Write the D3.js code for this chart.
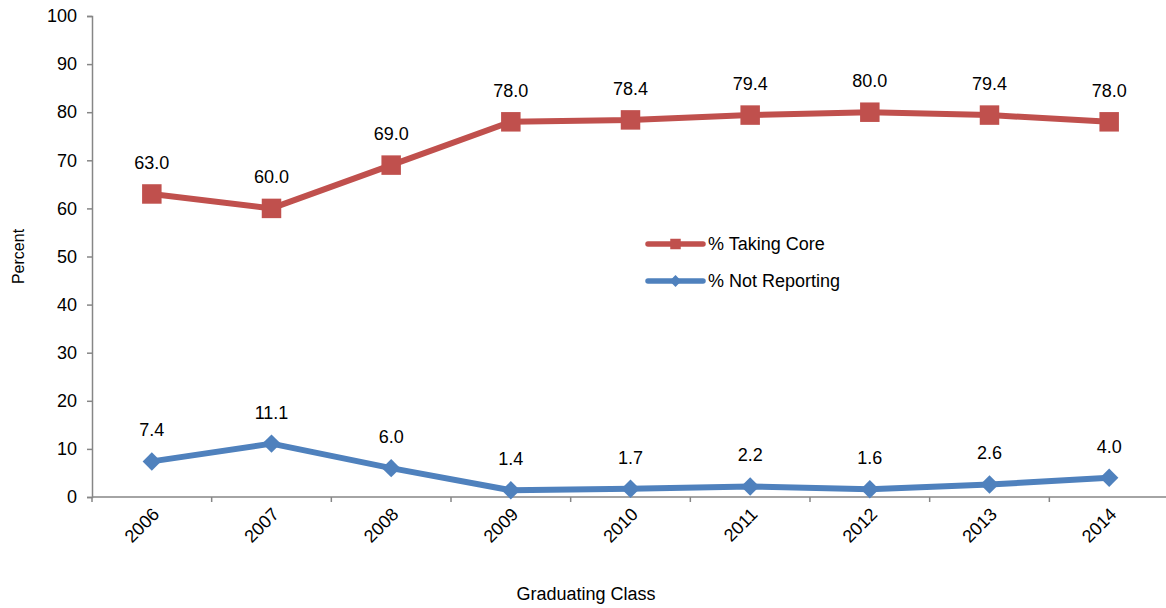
<!DOCTYPE html>
<html>
<head>
<meta charset="utf-8">
<script src="https://cdn.jsdelivr.net/npm/d3@7"></script>
<style>
  body { margin: 0; background: #fff; }
  text { font-family: "Liberation Sans", Arial, sans-serif; }
</style>
</head>
<body>
<svg id="chart"></svg>
<script>
// Core course-taking by graduating class
const years = ['2006', '2007', '2008', '2009', '2010', '2011', '2012', '2013', '2014'];
const takingCore = [63.0, 60.0, 69.0, 78.0, 78.4, 79.4, 80.0, 79.4, 78.0];
const notReporting = [7.4, 11.1, 6.0, 1.4, 1.7, 2.2, 1.6, 2.6, 4.0];
const yTicks = [0, 10, 20, 30, 40, 50, 60, 70, 80, 90, 100];

const width = 1166;
const height = 608;
const margin = { top: 16, right: -3, bottom: 111, left: 92 };

const svg = d3.select('#chart')
  .attr('width', width)
  .attr('height', height);

const xScale = d3.scaleBand()
  .domain(years)
  .range([margin.left, width - margin.right])
  .padding(0);

const yScale = d3.scaleLinear()
  .domain([0, 100])
  .range([height - margin.bottom, margin.top]);

const axisColor = '#868686';

// Y axis
const yAxis = svg.append('g')
  .attr('transform', `translate(${margin.left},0)`)
  .call(d3.axisLeft(yScale).tickValues(yTicks).tickSize(5).tickPadding(10));
yAxis.select('.domain').attr('stroke', axisColor).attr('stroke-width', 1.5);
yAxis.selectAll('.tick line').attr('stroke', axisColor).attr('stroke-width', 1.5);
yAxis.selectAll('text')
  .style('font-size', '18px')
  .style('fill', '#000');

// X axis: ticks sit on category boundaries
const xAxisG = svg.append('g')
  .attr('transform', `translate(0,${yScale(0)})`);
xAxisG.append('line')
  .attr('x1', margin.left)
  .attr('x2', width)
  .attr('stroke', axisColor)
  .attr('stroke-width', 1.5);
xAxisG.selectAll('.xtick')
  .data(years)
  .enter()
  .append('line')
  .attr('x1', d => xScale(d))
  .attr('x2', d => xScale(d))
  .attr('y1', 0)
  .attr('y2', 5)
  .attr('stroke', axisColor)
  .attr('stroke-width', 1.5);
xAxisG.selectAll('.xlabel')
  .data(years)
  .enter()
  .append('text')
  .attr('transform', d => `translate(${xScale(d) + xScale.bandwidth() / 2 + 4},${14}) rotate(-45)`)
  .attr('text-anchor', 'end')
  .attr('dy', '0.35em')
  .style('font-size', '18px')
  .style('fill', '#000')
  .text(d => d);

// Axis titles
svg.append('text')
  .attr('transform', `translate(24,${(margin.top + yScale(0)) / 2}) rotate(-90)`)
  .attr('text-anchor', 'middle')
  .style('font-size', '16px')
  .style('fill', '#000')
  .text('Percent');

svg.append('text')
  .attr('x', 586)
  .attr('y', 600)
  .attr('text-anchor', 'middle')
  .style('font-size', '18px')
  .style('fill', '#000')
  .text('Graduating Class');

const cx = (d, i) => xScale(years[i]) + xScale.bandwidth() / 2;

const series = [
  { name: '% Taking Core', values: takingCore, color: '#C0504D', rotate: 0, size: 380, legendSize: 110 },
  { name: '% Not Reporting', values: notReporting, color: '#4F81BD', rotate: 45, size: 170, legendSize: 70 }
];

const line = d3.line()
  .x(cx)
  .y(d => yScale(d));

series.forEach(s => {
  svg.append('path')
    .datum(s.values)
    .attr('fill', 'none')
    .attr('stroke', s.color)
    .attr('stroke-width', 6)
    .attr('stroke-linejoin', 'round')
    .attr('d', line);

  svg.selectAll(null)
    .data(s.values)
    .enter()
    .append('path')
    .attr('transform', (d, i) => `translate(${cx(d, i)},${yScale(d)}) rotate(${s.rotate})`)
    .attr('d', d3.symbol().type(d3.symbolSquare).size(s.size))
    .attr('fill', s.color);

  svg.selectAll(null)
    .data(s.values)
    .enter()
    .append('text')
    .attr('x', cx)
    .attr('y', d => yScale(d) - 25)
    .attr('text-anchor', 'middle')
    .style('font-size', '18px')
    .style('fill', '#000')
    .text(d => d.toFixed(1));
});

// Legend
const legend = svg.append('g')
  .attr('transform', 'translate(648,244)');

series.forEach((s, i) => {
  const row = legend.append('g')
    .attr('transform', `translate(0,${i * 37})`);
  row.append('line')
    .attr('x1', 0)
    .attr('x2', 55)
    .attr('stroke', s.color)
    .attr('stroke-width', 5.5)
    .attr('stroke-linecap', 'round');
  row.append('path')
    .attr('transform', `translate(27.5,0) rotate(${s.rotate})`)
    .attr('d', d3.symbol().type(d3.symbolSquare).size(s.legendSize))
    .attr('fill', s.color);
  row.append('text')
    .attr('x', 60)
    .attr('dy', '0.35em')
    .style('font-size', '18px')
    .style('fill', '#000')
    .text(s.name);
});
</script>
</body>
</html>
